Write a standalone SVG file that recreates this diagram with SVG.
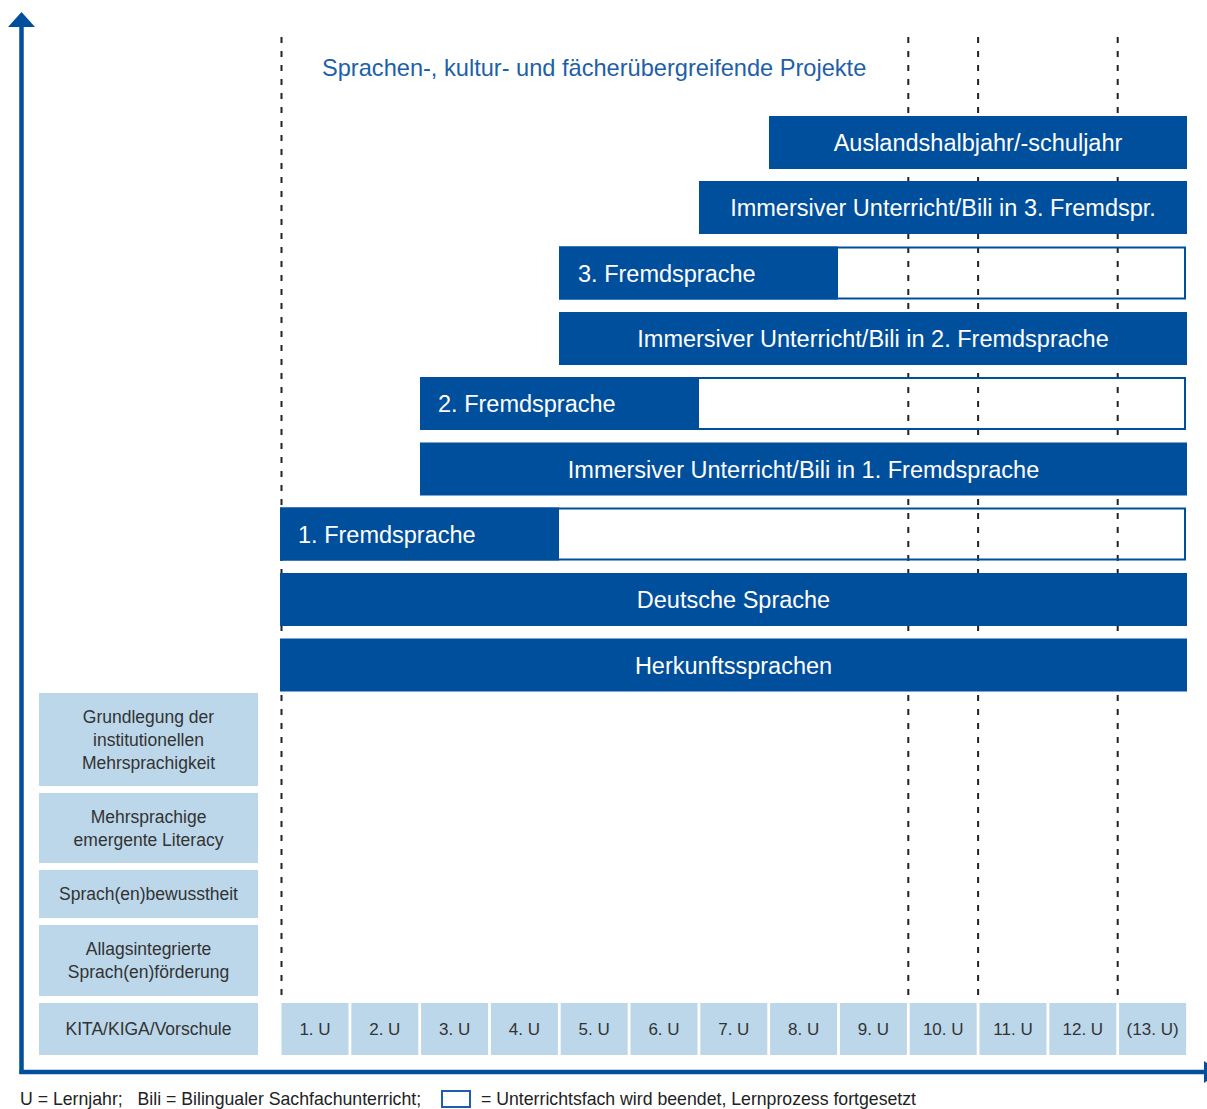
<svg xmlns="http://www.w3.org/2000/svg" width="1207" height="1109" viewBox="0 0 1207 1109">
  <style>
    .bar { fill: #004f9c; }
    .open { fill: none; stroke: #004f9c; stroke-width: 2; }
    .lbl { fill: #ffffff; font-family: "Liberation Sans", Arial, sans-serif; font-size: 23.5px; }
    .mid { text-anchor: middle; }
    .light { fill: #bcd7ea; }
    .small { fill: #333333; font-family: "Liberation Sans", Arial, sans-serif; font-size: 17.5px; text-anchor: middle; }
    .year { fill: #333333; font-family: "Liberation Sans", Arial, sans-serif; font-size: 17px; text-anchor: middle; }
    .grid { stroke: #222222; stroke-width: 2; stroke-dasharray: 6 8; }
    .axis { stroke: #004f9c; stroke-width: 4.5; fill: none; }
    .title { fill: #1d5fa8; font-family: "Liberation Sans", Arial, sans-serif; font-size: 23.6px; }
    .legend { fill: #222222; font-family: "Liberation Sans", Arial, sans-serif; font-size: 17.7px; }
  </style>

  <rect width="1207" height="1109" fill="#ffffff"/>

  <!-- time markers behind the bars -->
  <g id="grid">
    <line class="grid" x1="281.5" y1="37" x2="281.5" y2="1000"/>
    <line class="grid" x1="908.3" y1="37" x2="908.3" y2="1000"/>
    <line class="grid" x1="978.1" y1="37" x2="978.1" y2="1000"/>
    <line class="grid" x1="1117.7" y1="37" x2="1117.7" y2="1000"/>
  </g>

  <!-- axes -->
  <g id="connectors">
    <line class="axis" x1="21.5" y1="1074" x2="21.5" y2="25"/>
    <polygon points="21.5,12 8,27 35,27" fill="#004f9c"/>
    <line class="axis" x1="19.5" y1="1072" x2="1205" y2="1072"/>
    <polygon points="1220,1072 1204,1061 1204,1083" fill="#004f9c"/>
  </g>

  <g id="title">
    <text class="title" x="322" y="76">Sprachen-, kultur- und fächerübergreifende Projekte</text>
  </g>

  <g id="auslandsjahr">
    <rect class="bar" x="769" y="116" width="418" height="53"/>
    <text class="lbl mid" x="978" y="151">Auslandshalbjahr/-schuljahr</text>
  </g>

  <g id="bili-3">
    <rect class="bar" x="699" y="181" width="488" height="53"/>
    <text class="lbl mid" x="943" y="216">Immersiver Unterricht/Bili in 3. Fremdspr.</text>
  </g>

  <g id="fremdsprache-3">
    <rect class="open" x="560" y="247.5" width="625" height="51"/>
    <rect class="bar" x="559" y="246.5" width="279" height="53"/>
    <text class="lbl" x="578" y="281.5">3. Fremdsprache</text>
  </g>

  <g id="bili-2">
    <rect class="bar" x="559" y="312" width="628" height="53"/>
    <text class="lbl mid" x="873" y="347">Immersiver Unterricht/Bili in 2. Fremdsprache</text>
  </g>

  <g id="fremdsprache-2">
    <rect class="open" x="421" y="378" width="764" height="51"/>
    <rect class="bar" x="420" y="377" width="279" height="53"/>
    <text class="lbl" x="438" y="412">2. Fremdsprache</text>
  </g>

  <g id="bili-1">
    <rect class="bar" x="420" y="442.5" width="767" height="53"/>
    <text class="lbl mid" x="803.5" y="477.5">Immersiver Unterricht/Bili in 1. Fremdsprache</text>
  </g>

  <g id="fremdsprache-1">
    <rect class="open" x="281" y="508.5" width="904" height="51"/>
    <rect class="bar" x="280" y="507.5" width="279" height="53"/>
    <text class="lbl" x="298" y="542.5">1. Fremdsprache</text>
  </g>

  <g id="deutsch">
    <rect class="bar" x="280" y="573" width="907" height="53"/>
    <text class="lbl mid" x="733.5" y="608">Deutsche Sprache</text>
  </g>

  <g id="herkunft">
    <rect class="bar" x="280" y="638.5" width="907" height="53"/>
    <text class="lbl mid" x="733.5" y="673.5">Herkunftssprachen</text>
  </g>

  <!-- pre-school column -->
  <g id="grundlegung">
    <rect class="light" x="39" y="693" width="219" height="93"/>
    <text class="small" x="148.5" y="723">Grundlegung der</text>
    <text class="small" x="148.5" y="746">institutionellen</text>
    <text class="small" x="148.5" y="769">Mehrsprachigkeit</text>
  </g>
  <g id="literacy">
    <rect class="light" x="39" y="793" width="219" height="70"/>
    <text class="small" x="148.5" y="823">Mehrsprachige</text>
    <text class="small" x="148.5" y="846">emergente Literacy</text>
  </g>
  <g id="bewusstheit">
    <rect class="light" x="39" y="870" width="219" height="48"/>
    <text class="small" x="148.5" y="900">Sprach(en)bewusstheit</text>
  </g>
  <g id="foerderung">
    <rect class="light" x="39" y="925" width="219" height="71"/>
    <text class="small" x="148.5" y="955">Allagsintegrierte</text>
    <text class="small" x="148.5" y="978">Sprach(en)förderung</text>
  </g>
  <g id="vorschule">
    <rect class="light" x="39" y="1003" width="219" height="52"/>
    <text class="small" x="148.5" y="1035">KITA/KIGA/Vorschule</text>
  </g>

  <!-- learning years -->
  <g id="years">
    <rect class="light" x="281.5" y="1003" width="67" height="52"/><text class="year" x="315" y="1035">1. U</text>
    <rect class="light" x="351.3" y="1003" width="67" height="52"/><text class="year" x="384.8" y="1035">2. U</text>
    <rect class="light" x="421.1" y="1003" width="67" height="52"/><text class="year" x="454.6" y="1035">3. U</text>
    <rect class="light" x="490.9" y="1003" width="67" height="52"/><text class="year" x="524.4" y="1035">4. U</text>
    <rect class="light" x="560.7" y="1003" width="67" height="52"/><text class="year" x="594.2" y="1035">5. U</text>
    <rect class="light" x="630.5" y="1003" width="67" height="52"/><text class="year" x="664" y="1035">6. U</text>
    <rect class="light" x="700.3" y="1003" width="67" height="52"/><text class="year" x="733.8" y="1035">7. U</text>
    <rect class="light" x="770.1" y="1003" width="67" height="52"/><text class="year" x="803.6" y="1035">8. U</text>
    <rect class="light" x="839.9" y="1003" width="67" height="52"/><text class="year" x="873.4" y="1035">9. U</text>
    <rect class="light" x="909.7" y="1003" width="67" height="52"/><text class="year" x="943.2" y="1035">10. U</text>
    <rect class="light" x="979.5" y="1003" width="67" height="52"/><text class="year" x="1013" y="1035">11. U</text>
    <rect class="light" x="1049.3" y="1003" width="67" height="52"/><text class="year" x="1082.8" y="1035">12. U</text>
    <rect class="light" x="1119.1" y="1003" width="67" height="52"/><text class="year" x="1152.6" y="1035">(13. U)</text>
  </g>

  <g id="legend">
    <text class="legend" x="20" y="1105" xml:space="preserve">U = Lernjahr;   Bili = Bilingualer Sachfachunterricht;</text>
    <rect x="442" y="1091" width="28" height="16" fill="none" stroke="#1d5fa8" stroke-width="2"/>
    <text class="legend" x="481" y="1105">= Unterrichtsfach wird beendet, Lernprozess fortgesetzt</text>
  </g>
</svg>
